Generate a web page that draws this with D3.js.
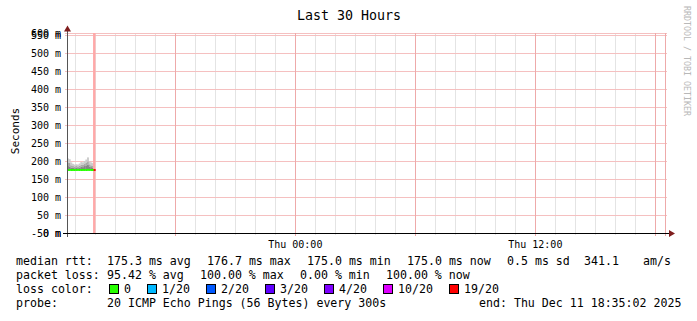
<!DOCTYPE html>
<html>
<head>
<meta charset="utf-8">
<script src="https://cdn.jsdelivr.net/npm/d3@7"></script>
<style>
  html, body { margin: 0; padding: 0; background: #fff; }
  svg { display: block; font-family: "DejaVu Sans Mono", monospace; }
  svg text { fill: #000; }
</style>
</head>
<body>
<svg id="chart" width="697" height="321"></svg>
<script>
// ── Data ──────────────────────────────────────────────────────────────────
const END_TIME   = Date.UTC(2025, 11, 11, 18, 35, 2);
const START_TIME = END_TIME - 30 * 3600 * 1000;
const STEP_MIN   = 5;

// median rtt per 5-minute step (ms), from the start of the window
const medianRtt = [175.0, 175.1, 175.0, 175.2, 175.0, 175.1, 175.3, 175.0,
                   175.0, 175.2, 175.1, 175.0, 175.4, 175.2, 175.0, 175.0, 175.0];
// lost pings out of 20, per step
const lossCount = [0, 0, 0, 0, 0, 0, 0, 0, 0, 0, 0, 0, 0, 0, 0, 0, 19];
// smoke percentiles (ms) per step
const smokeP75 = [186, 185, 182, 181, 180, 181, 180, 182, 184, 183, 186, 188, 190, 185, 183, 182, null];
const smokeP90 = [196, 195, 188, 186, 185, 186, 185, 187, 190, 189, 193, 196, 199, 191, 188, 187, null];
const smokeMax = [207, 205, 196, 192, 190, 191, 190, 193, 197, 196, 200, 204, 210, 199, 196, 194, null];

const yTicks = [-50, 0, 50, 100, 150, 200, 250, 300, 350, 400, 450, 500, 550, 600];

const lossLevels = ['0', '1/20', '2/20', '3/20', '4/20', '10/20', '19/20'];
const lossThresh = [0, 1, 2, 3, 4, 10, 19];
const lossColors = ['#26ff00', '#00b8ff', '#0059ff', '#5e00ff', '#7e00ff', '#dd00ff', '#ff0000'];

const rttStats  = ['175.3 ms avg', '176.7 ms max', '175.0 ms min', '175.0 ms now', '0.5 ms sd', '341.1', 'am/s'];
const lossStats = ['95.42 % avg', '100.00 % max', '0.00 % min', '100.00 % now'];
const probeText = '20 ICMP Echo Pings (56 Bytes) every 300s';
const endText   = 'end: Thu Dec 11 18:35:02 2025';

// ── Layout ────────────────────────────────────────────────────────────────
const plot = { left: 67, right: 667, top: 33, bottom: 233 };
const rttX  = [107, 207, 307, 407, 507, 584, 643];
const lossX = [107, 200, 300, 386];

const svg = d3.select('#chart');

const x = d3.scaleUtc().domain([START_TIME, END_TIME]).range([plot.left, plot.right]);
const y = d3.scaleLinear().domain([0, 550]).range([plot.bottom, 35]);
const yc = v => Math.max(plot.top, Math.min(plot.bottom, y(v)));

const stepTime = i => START_TIME + i * STEP_MIN * 60000;

// ── Grid ──────────────────────────────────────────────────────────────────
const minorHours = d3.utcHour.range(new Date(START_TIME), new Date(END_TIME));
const majorHours = d3.utcHour.every(6).range(new Date(START_TIME), new Date(END_TIME));

svg.append('g').selectAll('line')
  .data(minorHours)
  .join('line')
  .attr('x1', d => Math.round(x(d)) + 0.5).attr('x2', d => Math.round(x(d)) + 0.5)
  .attr('y1', plot.top).attr('y2', plot.bottom + 2)
  .attr('stroke', '#e4e4e4');

svg.append('g').selectAll('line')
  .data(yTicks)
  .join('line')
  .attr('x1', plot.left - 2).attr('x2', plot.right)
  .attr('y1', d => Math.round(yc(d)) + 0.5).attr('y2', d => Math.round(yc(d)) + 0.5)
  .attr('stroke', '#f5c0c0');

svg.append('g').selectAll('line')
  .data(majorHours.concat([new Date(END_TIME - 6 * 60000)]))
  .join('line')
  .attr('x1', d => Math.round(x(d)) + 0.5).attr('x2', d => Math.round(x(d)) + 0.5)
  .attr('y1', plot.top).attr('y2', plot.bottom + 3)
  .attr('stroke', '#eeaaaa');

// ── Smoke ─────────────────────────────────────────────────────────────────
const smokeBands = [
  { lo: medianRtt, hi: smokeP75, fill: '#848484' },
  { lo: smokeP75,  hi: smokeP90, fill: '#a8a8a8' },
  { lo: smokeP90,  hi: smokeMax, fill: '#cccccc' },
];
smokeBands.forEach(b => {
  svg.append('g').selectAll('rect')
    .data(d3.range(medianRtt.length).filter(i => b.hi[i] != null))
    .join('rect')
    .attr('x', i => x(stepTime(i)))
    .attr('width', i => x(stepTime(i + 1)) - x(stepTime(i)) + 0.3)
    .attr('y', i => y(b.hi[i]))
    .attr('height', i => y(b.lo[i]) - y(b.hi[i]))
    .attr('fill', b.fill);
});

// ── Loss vrule ────────────────────────────────────────────────────────────
const lossTime = stepTime(medianRtt.length - 1);
svg.append('rect')
  .attr('x', x(lossTime) - 0.6).attr('width', 2.4)
  .attr('y', plot.top).attr('height', plot.bottom - plot.top)
  .attr('fill', '#ffa8a8');

// ── Median line coloured by loss ─────────────────────────────────────────
const lossColor = n => {
  let c = lossColors[0];
  lossThresh.forEach((t, k) => { if (n >= t) c = lossColors[k]; });
  return c;
};
svg.append('g').selectAll('rect')
  .data(d3.range(medianRtt.length))
  .join('rect')
  .attr('x', i => x(stepTime(i)))
  .attr('width', i => x(stepTime(i + 1)) - x(stepTime(i)) + 0.3)
  .attr('y', i => y(medianRtt[i]) - 1)
  .attr('height', 2)
  .attr('fill', i => lossColor(lossCount[i]));

// ── Axes ──────────────────────────────────────────────────────────────────
svg.append('line')
  .attr('x1', plot.left + 0.5).attr('x2', plot.left + 0.5)
  .attr('y1', plot.bottom + 4).attr('y2', 29)
  .attr('stroke', '#555');
svg.append('line')
  .attr('x1', plot.left - 4).attr('x2', 670)
  .attr('y1', plot.bottom + 0.5).attr('y2', plot.bottom + 0.5)
  .attr('stroke', '#000');
svg.append('path')
  .attr('d', `M${plot.left - 3},31.5 L${plot.left + 0.5},25.5 L${plot.left + 4},31.5 Z`)
  .attr('fill', '#7f1d1d');
svg.append('path')
  .attr('d', `M669,${plot.bottom - 3} L675,${plot.bottom + 0.5} L669,${plot.bottom + 4} Z`)
  .attr('fill', '#7f1d1d');

// y labels
svg.append('g').selectAll('text')
  .data(yTicks)
  .join('text')
  .attr('x', 61)
  .attr('y', d => Math.round(yc(d)) + 4)
  .attr('text-anchor', 'end')
  .attr('font-size', 10)
  .text(d => `${d} m`);

// x labels
svg.append('g').selectAll('text')
  .data(d3.utcHour.every(12).range(new Date(START_TIME), new Date(END_TIME)))
  .join('text')
  .attr('x', d => x(d))
  .attr('y', 248)
  .attr('text-anchor', 'middle')
  .attr('font-size', 10)
  .text(d => d3.utcFormat('%a %H:%M')(d));

// titles
svg.append('text')
  .attr('x', 349).attr('y', 20)
  .attr('text-anchor', 'middle')
  .attr('font-size', 13.3)
  .text('Last 30 Hours');

svg.append('text')
  .attr('transform', 'translate(19,131) rotate(-90)')
  .attr('text-anchor', 'middle')
  .attr('font-size', 11)
  .text('Seconds');

svg.append('text')
  .attr('transform', 'translate(684,61) rotate(90)')
  .attr('text-anchor', 'middle')
  .attr('font-size', 8.3)
  .style('fill', '#b8b8b8')
  .text('RRDTOOL / TOBI OETIKER');

// ── Legend ────────────────────────────────────────────────────────────────
const LEG_FS = 11.6;
const legendLine = (yy, label) =>
  svg.append('text').attr('x', 16).attr('y', yy).attr('font-size', LEG_FS).text(label);

legendLine(265, 'median rtt:');
svg.append('g').selectAll('text')
  .data(rttStats).join('text')
  .attr('x', (d, i) => rttX[i]).attr('y', 265)
  .attr('font-size', LEG_FS).text(d => d);

legendLine(279, 'packet loss:');
svg.append('g').selectAll('text')
  .data(lossStats).join('text')
  .attr('x', (d, i) => lossX[i]).attr('y', 279)
  .attr('font-size', LEG_FS).text(d => d);

legendLine(293, 'loss color:');
let lx = 109;
lossLevels.forEach((lbl, i) => {
  svg.append('rect')
    .attr('x', lx + 0.5).attr('y', 284.5)
    .attr('width', 9).attr('height', 9)
    .attr('fill', lossColors[i]).attr('stroke', '#000');
  svg.append('text')
    .attr('x', lx + 15).attr('y', 293)
    .attr('font-size', LEG_FS).text(lbl);
  lx += 15 + lbl.length * 7 + 16;
});

legendLine(307, 'probe:');
svg.append('text').attr('x', 107).attr('y', 307).attr('font-size', LEG_FS).text(probeText);
svg.append('text').attr('x', 479).attr('y', 307).attr('font-size', LEG_FS).text(endText);
</script>
</body>
</html>
